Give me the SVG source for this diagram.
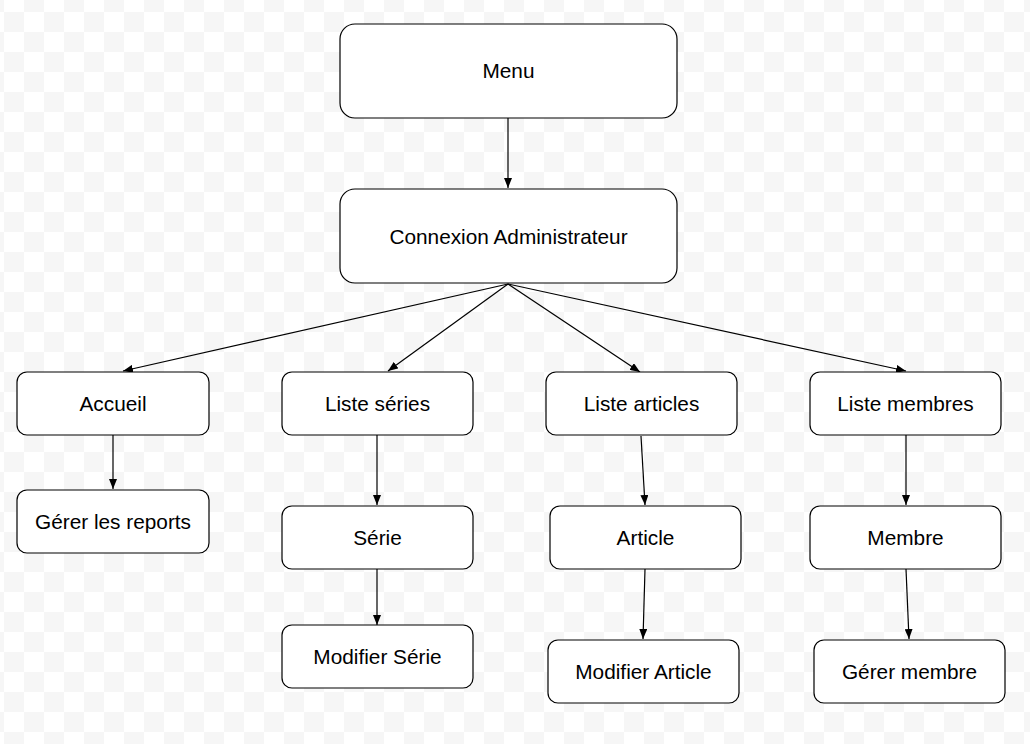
<svg xmlns="http://www.w3.org/2000/svg" width="1030" height="744" viewBox="0 0 1030 744">
<style>
.n rect{fill:#fff;stroke:#000;stroke-width:1.2}
.n text{font-family:"Liberation Sans",Arial,sans-serif;font-size:20.8px;fill:#000;text-anchor:middle}
.e path{fill:none;stroke:#000;stroke-width:1.2;marker-end:url(#ah)}
</style>
<defs>
<pattern id="bg" x="4" y="12" width="40" height="40" patternUnits="userSpaceOnUse">
<rect width="40" height="40" fill="#fff"/>
<rect width="20" height="20" fill="#f6f6f6"/>
<rect x="20" y="20" width="20" height="20" fill="#f6f6f6"/>
</pattern>
<marker id="ah" markerWidth="10" markerHeight="8" refX="10" refY="4" orient="auto" markerUnits="userSpaceOnUse">
<path d="M0,0 L10,4 L0,8 Z" fill="#000"/>
</marker>
</defs>
<rect width="1030" height="744" fill="url(#bg)"/>
<g class="e" id="connectors">
<path d="M508,118 L508,188"/>
<path d="M508,284 L123,371"/>
<path d="M508,284 L388,371"/>
<path d="M508,284 L640,372"/>
<path d="M508,284 L906,371"/>
<path d="M113,435 L113,489"/>
<path d="M377,435 L377,505"/>
<path d="M377,569 L377,625"/>
<path d="M641,436 L645,505"/>
<path d="M645,569 L643,639"/>
<path d="M906,435 L906,505"/>
<path d="M906,569 L909,639"/>
</g>
<g class="n" id="menu"><rect x="340" y="24" width="337" height="94" rx="15"/><text x="508.5" y="77.5">Menu</text></g>
<g class="n" id="connexion"><rect x="340" y="189" width="337" height="94" rx="15"/><text x="508.5" y="243.5">Connexion Administrateur</text></g>
<g class="n" id="accueil"><rect x="17" y="372" width="192" height="63" rx="10"/><text x="113" y="410.5">Accueil</text></g>
<g class="n" id="reports"><rect x="17" y="490" width="192" height="63" rx="10"/><text x="113" y="528.5">Gérer les reports</text></g>
<g class="n" id="listeseries"><rect x="282" y="372" width="191" height="63" rx="10"/><text x="377.5" y="410.5">Liste séries</text></g>
<g class="n" id="serie"><rect x="282" y="506" width="191" height="63" rx="10"/><text x="377.5" y="544.5">Série</text></g>
<g class="n" id="modserie"><rect x="282" y="625" width="191" height="63" rx="10"/><text x="377.5" y="663.5">Modifier Série</text></g>
<g class="n" id="listearticles"><rect x="546" y="372" width="191" height="63" rx="10"/><text x="641.5" y="410.5">Liste articles</text></g>
<g class="n" id="article"><rect x="550" y="506" width="191" height="63" rx="10"/><text x="645.5" y="544.5">Article</text></g>
<g class="n" id="modarticle"><rect x="548" y="640" width="191" height="63" rx="10"/><text x="643.5" y="678.5">Modifier Article</text></g>
<g class="n" id="listemembres"><rect x="810" y="372" width="191" height="63" rx="10"/><text x="905.5" y="410.5">Liste membres</text></g>
<g class="n" id="membre"><rect x="810" y="506" width="191" height="63" rx="10"/><text x="905.5" y="544.5">Membre</text></g>
<g class="n" id="gerermembre"><rect x="814" y="640" width="191" height="63" rx="10"/><text x="909.5" y="678.5">Gérer membre</text></g>
</svg>
